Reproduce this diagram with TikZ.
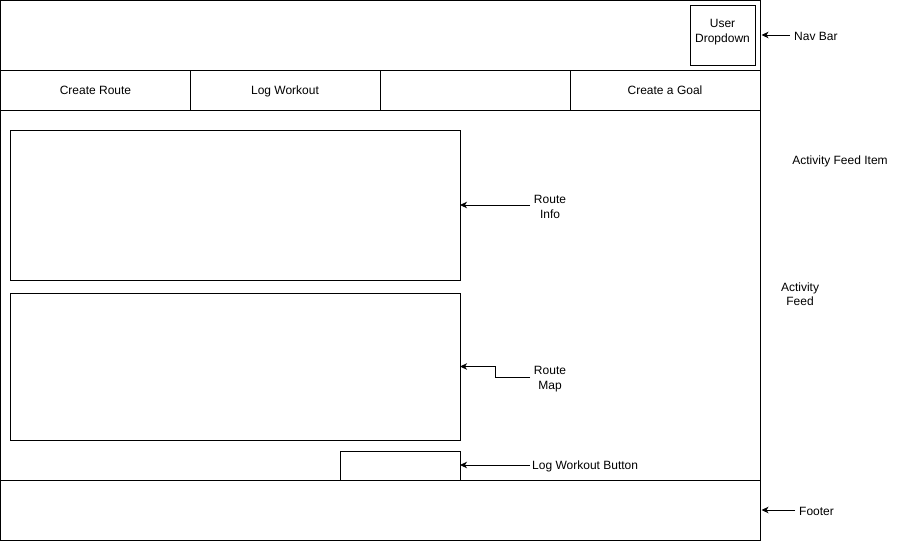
\documentclass[tikz,border=0pt]{standalone}
\usepackage{fontspec}
\setmainfont{Liberation Sans}
\usetikzlibrary{arrows.meta,positioning}
\tikzset{
  frame/.style={draw=black, line width=1pt, fill=none, inner sep=0pt, anchor=north west, outer sep=0pt},
  lbl/.style={font=\fontsize{12}{14.5}\selectfont, align=center, inner sep=2pt},
  tablbl/.style={lbl, text height=9pt, text depth=3pt},
  pointer/.style={draw=black, line width=1pt, -{Stealth[length=7pt,width=6.5pt,inset=2pt]}},
}
\begin{document}
\begin{tikzpicture}[x=1pt,y=-1pt]
\useasboundingbox (0,0) rectangle (901,541);

% page regions
\node[frame, minimum width=759.5pt, minimum height=69.5pt] (nav) at (0.5,0.5) {};
\node[frame, minimum width=190pt, minimum height=40pt] (tab1) at (0.5,70) {};
\node[frame, minimum width=190pt, minimum height=40pt] (tab2) at (190,70) {};
\node[frame, minimum width=190pt, minimum height=40pt] (tab3) at (380,70) {};
\node[frame, minimum width=190pt, minimum height=40pt] (tab4) at (570,70) {};
\node[frame, minimum width=759.5pt, minimum height=370pt] (feed) at (0.5,110) {};
\node[frame, minimum width=759.5pt, minimum height=60pt] (footer) at (0.5,480) {};

% nav bar content
\node[frame, minimum width=65pt, minimum height=60pt] (user) at (690,5) {};
\node[lbl] (tuser) at (722.5,32) {User\\Dropdown};

% tab labels
\node[tablbl] (ttab1) at ([yshift=-1.5pt]tab1.center) {Create Route};
\node[tablbl] (ttab2) at ([yshift=-1.5pt]tab2.center) {Log Workout};
\node[tablbl] (ttab4) at ([yshift=-1.5pt]tab4.center) {Create a Goal};

% activity feed item
\node[frame, minimum width=450pt, minimum height=150pt] (info) at (10,130) {};
\node[frame, minimum width=450pt, minimum height=147pt] (map) at (10,293) {};
\node[frame, minimum width=120pt, minimum height=29pt] (btn) at (340,451) {};

% annotations
\node[lbl, anchor=west] (tnav) at (792,36) {Nav Bar};
\node[lbl] (tinfo) at (550,207) {Route\\Info};
\node[lbl] (tmap) at (550,379) {Route\\Map};
\node[lbl, anchor=west] (tbtn) at (530,466) {Log Workout Button};
\node[lbl, anchor=west] (tfoot) at (797,511) {Footer};
\node[lbl] (titem) at (840,161) {Activity Feed Item};
\node[lbl] (tfeed) at (800,294) {Activity\\Feed};

% pointer end points
\coordinate (navtail) at (790,35);
\coordinate (foottail) at (795,510);
\coordinate (infotail) at (530,205);
\coordinate (maptail) at (530,377);
\coordinate (btntail) at (530,465);

\draw[pointer] (navtail) -- ([xshift=1.5pt]nav.east |- navtail);
\draw[pointer] (foottail) -- ([xshift=1.5pt]footer.east |- foottail);
\draw[pointer] (infotail) -- (info.east |- infotail);
\draw[pointer] (maptail) -- ++(-35,0) |- (map.east);
\draw[pointer] (btntail) -- (btn.east |- btntail);
\end{tikzpicture}
\end{document}
